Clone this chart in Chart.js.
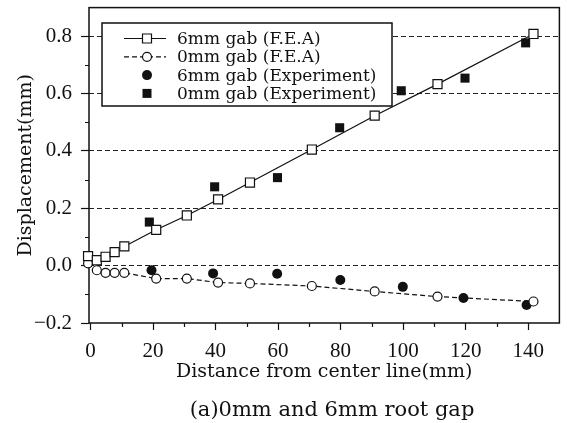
<!DOCTYPE html>
<html>
<head>
<meta charset="utf-8">
<script src="https://cdn.jsdelivr.net/npm/chart.js@4"></script>
<style>
  html, body { margin: 0; padding: 0; background: #fff; }
  canvas { display: block; }
</style>
</head>
<body>
<canvas id="chart" width="567" height="423"></canvas>
<script>
// Valores
const feaX = [-0.8, 2, 4.8, 7.7, 10.8, 21, 30.8, 40.8, 51, 70.8, 90.9, 111, 141.7];
const fea6Y = [0.033, 0.019, 0.031, 0.047, 0.067, 0.125, 0.175, 0.231, 0.29, 0.405, 0.523, 0.633, 0.808];
const fea0Y = [0.008, -0.016, -0.025, -0.025, -0.025, -0.045, -0.045, -0.059, -0.062, -0.071, -0.09, -0.108, -0.125];
const exp6X = [19.5, 39.2, 59.7, 79.9, 99.9, 119.3, 139.5];
const exp6Y = [-0.016, -0.027, -0.028, -0.05, -0.074, -0.113, -0.137];
const exp0X = [18.8, 39.7, 59.8, 79.7, 99.4, 119.8, 139.2];
const exp0Y = [0.152, 0.275, 0.307, 0.481, 0.61, 0.654, 0.777];

const xTicks = [0, 20, 40, 60, 80, 100, 120, 140];
const xMinorTicks = [10, 30, 50, 70, 90, 110, 130];
const yTicks = [-0.2, 0, 0.2, 0.4, 0.6, 0.8];
const yMinorTicks = [-0.1, 0.1, 0.3, 0.5, 0.7];

const seriesNames = ['6mm gab (F.E.A)', '0mm gab (F.E.A)', '6mm gab (Experiment)', '0mm gab (Experiment)'];
const xTitle = 'Distance from center line(mm)';
const yTitle = 'Displacement(mm)';
const caption = '(a)0mm and 6mm root gap';

const SERIF = "'DejaVu Serif', serif";
const TICK_FONT = "'Liberation Serif', serif";
const INK = '#111';

const pts = (xs, ys) => xs.map((x, i) => ({ x, y: ys[i] }));

/**
 * Moldura, ticks menores, legenda e legenda inferior
 */
const framePlugin = {
    id: 'frame',
    beforeDatasetsDraw: (chart) => {
        const { ctx, chartArea: { left, top, right, bottom } } = chart;
        ctx.save();
        ctx.strokeStyle = INK;
        ctx.lineWidth = 1.5;
        ctx.strokeRect(left, top, right - left, bottom - top);
        ctx.restore();
    }
};

const minorTicksPlugin = {
    id: 'minorTicks',
    afterDraw: (chart) => {
        const { ctx, chartArea: { left, bottom }, scales: { x, y } } = chart;
        ctx.save();
        ctx.strokeStyle = INK;
        ctx.lineWidth = 1.2;
        ctx.beginPath();
        xMinorTicks.forEach(v => {
            const px = Math.round(x.getPixelForValue(v)) + 0.5;
            ctx.moveTo(px, bottom);
            ctx.lineTo(px, bottom + 4);
        });
        yMinorTicks.forEach(v => {
            const py = Math.round(y.getPixelForValue(v)) + 0.5;
            ctx.moveTo(left - 4, py);
            ctx.lineTo(left, py);
        });
        ctx.stroke();
        ctx.restore();
    }
};

function drawMarker(ctx, style, cx, cy, filled) {
    ctx.beginPath();
    if (style === 'rect') {
        ctx.rect(cx - 4.5, cy - 4.5, 9, 9);
    } else {
        ctx.arc(cx, cy, filled ? 5 : 4.5, 0, Math.PI * 2);
    }
    ctx.fillStyle = filled ? INK : '#fff';
    ctx.fill();
    if (!filled) {
        ctx.lineWidth = 1.2;
        ctx.strokeStyle = INK;
        ctx.stroke();
    }
}

const legendPlugin = {
    id: 'boxLegend',
    afterDraw: (chart) => {
        const { ctx } = chart;
        const box = { x: 102, y: 23, w: 290, h: 83 };
        ctx.save();
        ctx.fillStyle = '#fff';
        ctx.fillRect(box.x, box.y, box.w, box.h);
        ctx.strokeStyle = INK;
        ctx.lineWidth = 1.5;
        ctx.strokeRect(box.x, box.y, box.w, box.h);

        ctx.font = '17px ' + SERIF;
        ctx.textBaseline = 'middle';
        ctx.textAlign = 'left';
        chart.data.datasets.forEach((ds, i) => {
            const cy = 38.5 + i * 18.3;
            if (ds.showLine) {
                ctx.beginPath();
                ctx.setLineDash(ds.borderDash || []);
                ctx.lineWidth = 1.2;
                ctx.strokeStyle = INK;
                ctx.moveTo(124, cy);
                ctx.lineTo(166, cy);
                ctx.stroke();
                ctx.setLineDash([]);
            }
            drawMarker(ctx, ds.pointStyle, 147, cy, ds.pointBackgroundColor !== '#fff');
            ctx.fillStyle = INK;
            ctx.fillText(ds.label, 177, cy + 1);
        });
        ctx.restore();
    }
};

const captionPlugin = {
    id: 'caption',
    afterDraw: (chart) => {
        const { ctx } = chart;
        ctx.save();
        ctx.font = '21px ' + SERIF;
        ctx.fillStyle = INK;
        ctx.textAlign = 'center';
        ctx.textBaseline = 'alphabetic';
        ctx.fillText(caption, 332, 416);
        ctx.restore();
    }
};

const ctx = document.getElementById('chart').getContext('2d');

new Chart(ctx, {
    type: 'scatter',
    data: {
        datasets: [
            {
                label: seriesNames[0],
                data: pts(feaX, fea6Y),
                showLine: true,
                borderColor: INK,
                borderWidth: 1.2,
                pointStyle: 'rect',
                pointRadius: 6.4,
                pointBackgroundColor: '#fff',
                pointBorderColor: INK,
                pointBorderWidth: 1.2,
                clip: false
            },
            {
                label: seriesNames[1],
                data: pts(feaX, fea0Y),
                showLine: true,
                borderColor: INK,
                borderWidth: 1.2,
                borderDash: [5, 3],
                pointStyle: 'circle',
                pointRadius: 4.5,
                pointBackgroundColor: '#fff',
                pointBorderColor: INK,
                pointBorderWidth: 1.2,
                clip: false
            },
            {
                label: seriesNames[2],
                data: pts(exp6X, exp6Y),
                pointStyle: 'circle',
                pointRadius: 5,
                pointBackgroundColor: INK,
                pointBorderColor: INK,
                pointBorderWidth: 0,
                clip: false
            },
            {
                label: seriesNames[3],
                data: pts(exp0X, exp0Y),
                pointStyle: 'rect',
                pointRadius: 6.4,
                pointBackgroundColor: INK,
                pointBorderColor: INK,
                pointBorderWidth: 0,
                clip: false
            }
        ]
    },
    options: {
        responsive: false,
        animation: false,
        layout: { padding: { top: 5, right: 1, left: 0, bottom: 0 } },
        plugins: {
            legend: { display: false },
            tooltip: { enabled: false }
        },
        scales: {
            x: {
                type: 'linear',
                min: -0.5,
                max: 150,
                afterFit: (scale) => {
                    scale.height = 100;
                    scale.paddingLeft = 0;
                    scale.paddingRight = 0;
                },
                afterBuildTicks: (scale) => { scale.ticks = xTicks.map(v => ({ value: v })); },
                border: { display: false },
                grid: {
                    drawOnChartArea: false,
                    tickLength: 7,
                    tickColor: INK,
                    tickWidth: 1.2
                },
                ticks: {
                    color: INK,
                    font: { family: TICK_FONT, size: 21 },
                    padding: 9,
                    maxRotation: 0
                },
                title: {
                    display: true,
                    text: xTitle,
                    color: INK,
                    font: { family: SERIF, size: 19 },
                    padding: { top: 0, bottom: 40 }
                }
            },
            y: {
                min: -0.2,
                max: 0.9,
                afterFit: (scale) => {
                    scale.width = 89;
                    scale.paddingTop = 0;
                    scale.paddingBottom = 0;
                },
                afterBuildTicks: (scale) => { scale.ticks = yTicks.map(v => ({ value: v })); },
                border: { display: false, dash: [5, 3] },
                grid: {
                    color: (c) => (c.tick && c.tick.value === -0.2) ? 'rgba(0,0,0,0)' : '#222',
                    lineWidth: 1,
                    tickBorderDash: [],
                    tickLength: 8,
                    tickColor: INK,
                    tickWidth: 1.2
                },
                ticks: {
                    color: INK,
                    font: { family: TICK_FONT, size: 21 },
                    padding: 9,
                    callback: (v) => v.toFixed(1).replace('-', '\u2212')
                },
                title: {
                    display: true,
                    text: yTitle,
                    color: INK,
                    font: { family: SERIF, size: 19 },
                    padding: { top: 15, bottom: 0 }
                }
            }
        }
    },
    plugins: [framePlugin, minorTicksPlugin, legendPlugin, captionPlugin]
});
</script>
</body>
</html>
